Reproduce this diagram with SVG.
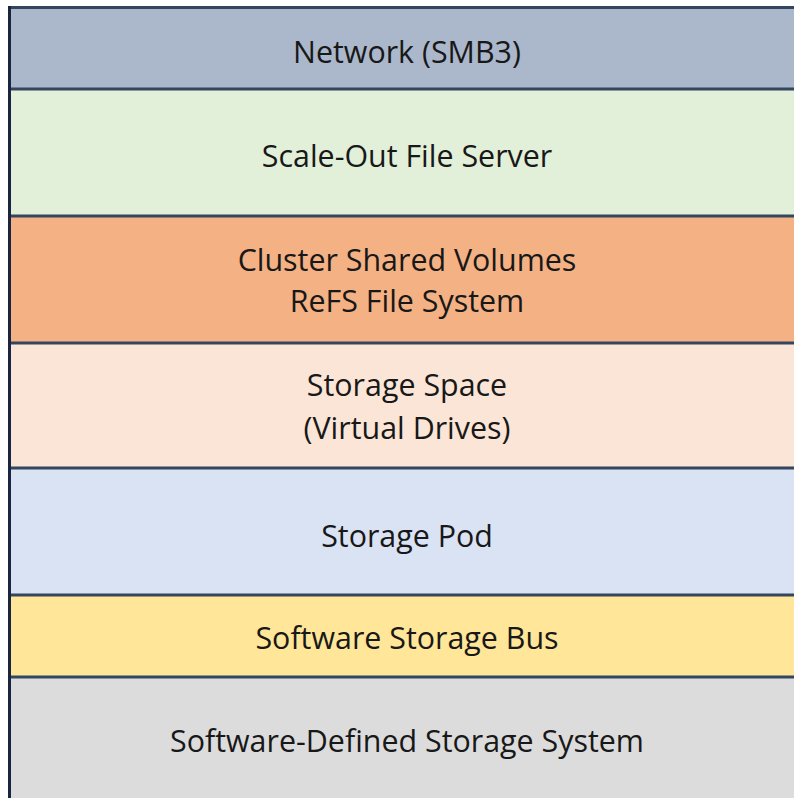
<svg xmlns="http://www.w3.org/2000/svg" width="794" height="798" viewBox="0 0 794 798">
<style>
.t{font-family:"Open Sans","Noto Sans","Liberation Sans",sans-serif;font-size:30.4px;fill:#181818;text-anchor:middle}
.sep{stroke:#34465f;stroke-width:3}
</style>
<rect width="794" height="798" fill="#ffffff"/>
<g id="network"><rect x="9" y="8" width="785" height="81" fill="#abb7ca"/><text class="t" x="407" y="63">Network (SMB3)</text></g>
<g id="sofs"><rect x="9" y="89" width="785" height="127" fill="#e2efd9"/><text class="t" x="407" y="167">Scale-Out File Server</text></g>
<g id="csv"><rect x="9" y="216" width="785" height="127" fill="#f4b183"/><text class="t" x="407" y="271">Cluster Shared Volumes</text><text class="t" x="407" y="312">ReFS File System</text></g>
<g id="space"><rect x="9" y="343" width="785" height="125" fill="#fbe5d6"/><text class="t" x="407" y="396">Storage Space</text><text class="t" x="407" y="439">(Virtual Drives)</text></g>
<g id="pod"><rect x="9" y="468" width="785" height="127" fill="#dae3f3"/><text class="t" x="407" y="547">Storage Pod</text></g>
<g id="bus"><rect x="9" y="595" width="785" height="82" fill="#ffe699"/><text class="t" x="407" y="649">Software Storage Bus</text></g>
<g id="sds"><rect x="9" y="677" width="785" height="121" fill="#dcdcdc"/><text class="t" x="407" y="752">Software-Defined Storage System</text></g>
<g id="connectors">
<line class="sep" x1="9" y1="7.5" x2="794" y2="7.5"/>
<line class="sep" x1="9" y1="89" x2="794" y2="89"/>
<line class="sep" x1="9" y1="216" x2="794" y2="216"/>
<line class="sep" x1="9" y1="343" x2="794" y2="343"/>
<line class="sep" x1="9" y1="468" x2="794" y2="468"/>
<line class="sep" x1="9" y1="595" x2="794" y2="595"/>
<line class="sep" x1="9" y1="677" x2="794" y2="677"/>
<line x1="9.5" y1="6" x2="9.5" y2="798" stroke="#1a2540" stroke-width="3"/>
</g>
</svg>
